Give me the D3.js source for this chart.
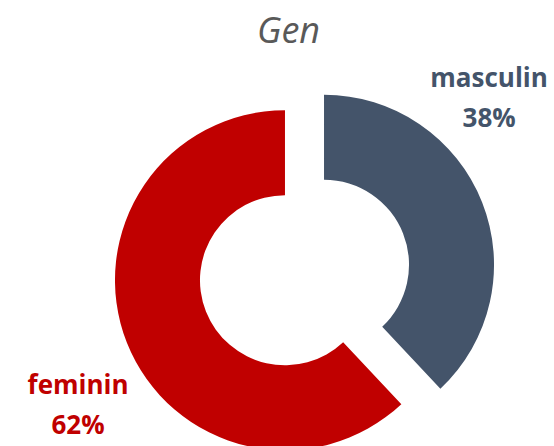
<!DOCTYPE html>
<html>
<head>
<meta charset="utf-8">
<script src="https://cdnjs.cloudflare.com/ajax/libs/d3/7.8.5/d3.min.js"></script>
<style>
  html, body { margin: 0; padding: 0; background: #fff; }
  .canvas { width: 554px; height: 446px; overflow: hidden; }
</style>
</head>
<body>
<div class="canvas"></div>
<script>
const categories = ['masculin', 'feminin'];
const values = [38, 62];
const title = 'Gen';

const dims = {
    width: 554,
    height: 446,
    innerRadius: 85,
    outerRadius: 170,
    explode: 21
};

const cent = { x: 304.5, y: 272.5 };

// label anchors (angle in degrees from top, clockwise; radius from centre)
const labelPlacement = [
    { angle: 48.1, radius: 248 },
    { angle: 238, radius: 267 }
];

const colour = d3.scaleOrdinal()
    .domain(categories)
    .range(['#44546A', '#C00000']);

const svg = d3.select('.canvas')
    .append('svg')
    .attr('width', dims.width)
    .attr('height', dims.height);

svg.append('text')
    .attr('x', 288.5)
    .attr('y', 43)
    .attr('text-anchor', 'middle')
    .attr('fill', '#595959')
    .style('font-family', '"Open Sans", sans-serif')
    .style('font-style', 'italic')
    .style('font-size', '36px')
    .text(title);

const graph = svg.append('g')
    .attr('transform', `translate(${cent.x}, ${cent.y})`);

const pie = d3.pie()
    .sort(null)
    .value(d => d.value);

const arc = d3.arc()
    .innerRadius(dims.innerRadius)
    .outerRadius(dims.outerRadius);

const data = pie(categories.map((c, i) => ({ name: c, value: values[i] })));

graph.selectAll('.slice')
    .data(data)
    .enter()
    .append('path')
    .attr('class', 'slice')
    .attr('fill', d => colour(d.data.name))
    .attr('transform', d => {
        const a = (d.startAngle + d.endAngle) / 2;
        return `translate(${Math.sin(a) * dims.explode}, ${-Math.cos(a) * dims.explode})`;
    })
    .attr('d', arc);

const total = d3.sum(values);

const labels = graph.selectAll('.label')
    .data(data)
    .enter()
    .append('text')
    .attr('class', 'label')
    .attr('text-anchor', 'middle')
    .attr('fill', d => colour(d.data.name))
    .style('font-family', '"Open Sans", sans-serif')
    .style('font-weight', 'bold')
    .style('font-size', '26px')
    .attr('transform', (d, i) => {
        const p = labelPlacement[i];
        const a = p.angle * Math.PI / 180;
        return `translate(${Math.sin(a) * p.radius}, ${-Math.cos(a) * p.radius})`;
    });

labels.append('tspan')
    .attr('x', 0)
    .attr('y', -20)
    .text(d => d.data.name);

labels.append('tspan')
    .attr('x', 0)
    .attr('y', 20)
    .text(d => Math.round(d.data.value / total * 100) + '%');
</script>
</body>
</html>
